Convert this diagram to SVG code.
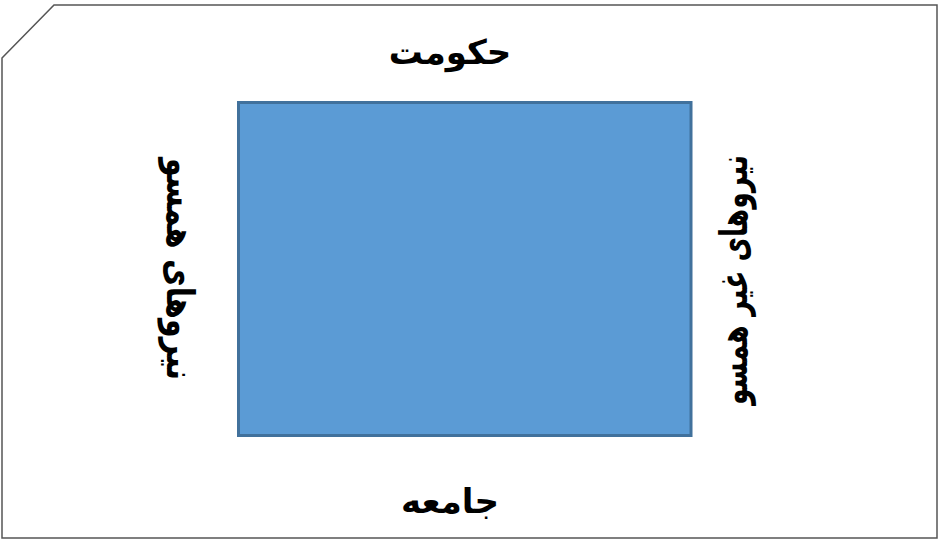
<svg xmlns="http://www.w3.org/2000/svg" width="939" height="539" viewBox="0 0 939 539">
<style>
.lbl{font-family:"DejaVu Sans","Noto Sans",sans-serif;font-weight:bold;font-size:34px;fill:#000;text-anchor:middle;}
.side{font-size:38px;}
</style>
<rect width="939" height="539" fill="#fff"/>
<path d="M2 58 L54 5 L937 5 L937 538 L2 538 Z" fill="none" stroke="#555" stroke-width="1.5"/>
<g id="center">
<rect x="238.5" y="102.5" width="452.5" height="333" fill="#5b9bd5" stroke="#41719c" stroke-width="3"/>
</g>
<g id="top"><text class="lbl" x="450" y="64" direction="rtl">حکومت</text></g>
<g id="bottom"><text class="lbl" x="450" y="513" direction="rtl">جامعه</text></g>
<g id="left"><text class="lbl side" transform="translate(167 269) rotate(90)" x="0" y="0" direction="rtl" textLength="222" lengthAdjust="spacingAndGlyphs">نیروهای همسو</text></g>
<g id="right"><text class="lbl side" transform="translate(747 280) rotate(-90)" x="0" y="0" direction="rtl" textLength="250" lengthAdjust="spacingAndGlyphs">نیروهای غیر همسو</text></g>
<g id="connectors"></g>
</svg>
